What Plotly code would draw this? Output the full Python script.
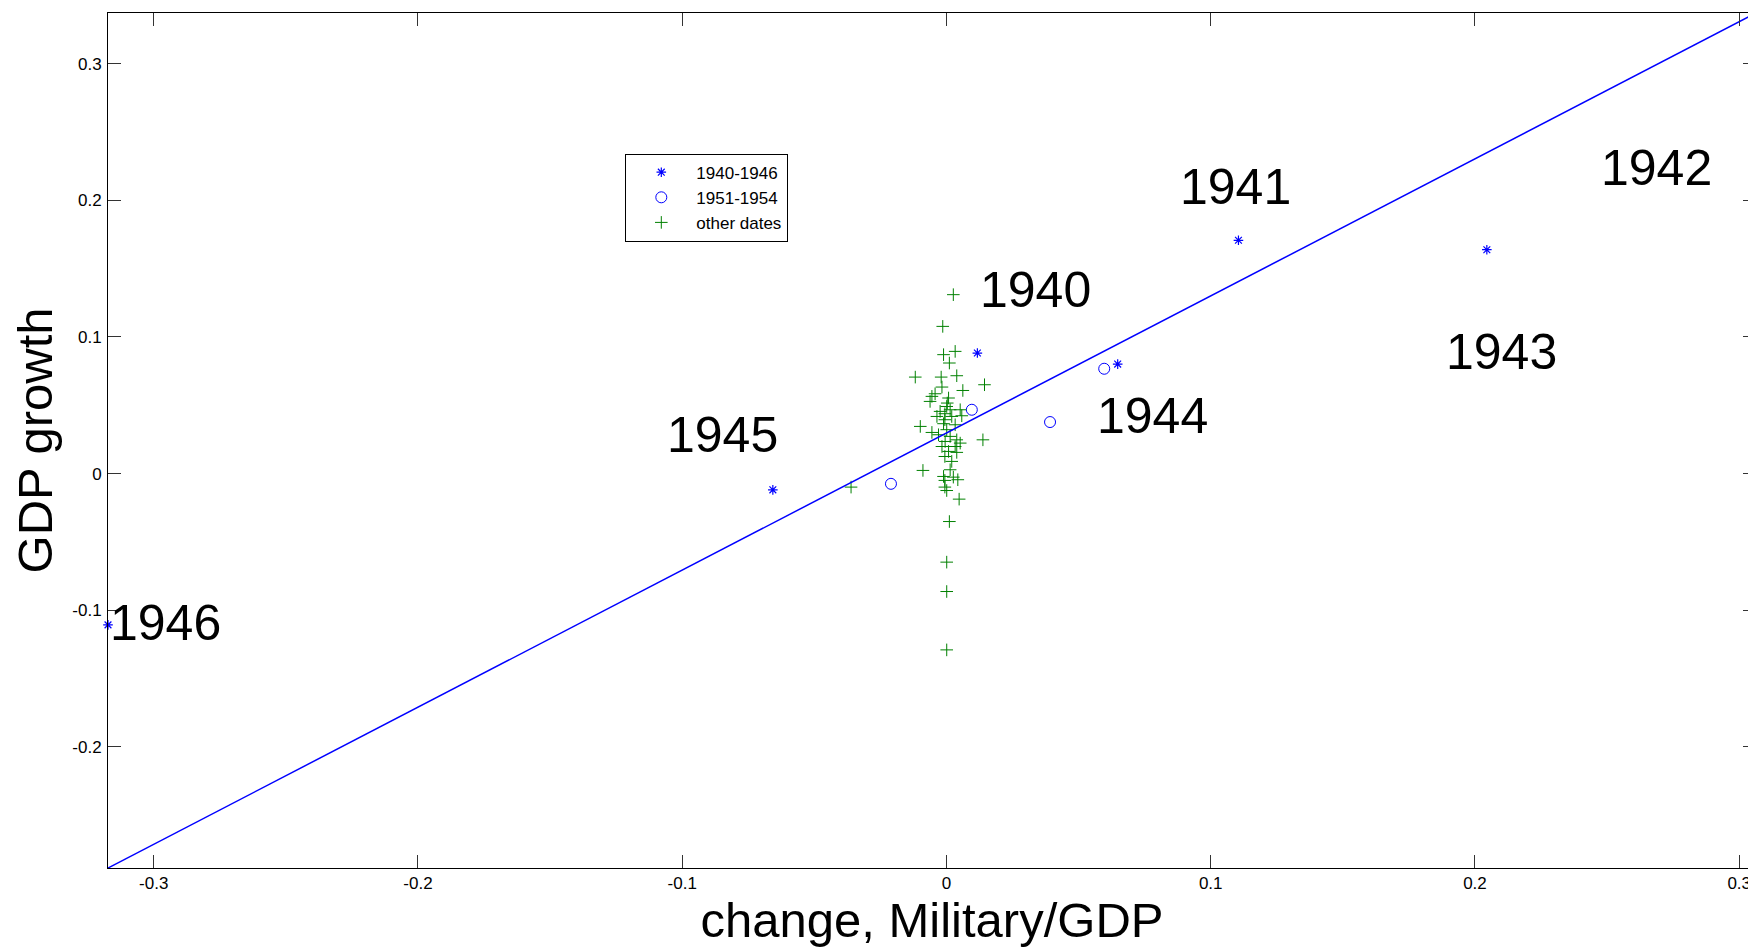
import plotly.graph_objects as go

# ---- data ----
war_years = ["1940", "1941", "1942", "1943", "1944", "1945", "1946"]
war_x = [0.0117, 0.1105, 0.3080, 0.2045, 0.0648, -0.0657, -0.3173]
war_y = [0.0882, 0.1707, 0.1900, 0.1638, 0.0801, -0.0119, -0.1107]

korea_x = [-0.0210, 0.0096, 0.0392, 0.0597]
korea_y = [-0.0075, 0.0467, 0.0377, 0.0767]

other_x = [0.0026, -0.0014, -0.0011, 0.0033, 0.0011, -0.0118, -0.0020, 0.0039,
           -0.0017, 0.0144, 0.0062, -0.0043, -0.0055, 0.0008, -0.0062, 0.0003,
           0.0001, 0.0014, 0.0052, -0.0024, -0.0006, -0.0036, 0.0020, 0.0058,
           -0.0006, -0.0099, -0.0011, 0.0033, -0.0055, -0.0030, 0.0001, 0.0014,
           0.0039, 0.0052, -0.0005, -0.0017, 0.0033, 0.0138, 0.0008, 0.0039,
           -0.0006, 0.0020, 0.0014, -0.0089, -0.0011, 0.0026, -0.0006, 0.0043,
           -0.0006, 0.0001, 0.0048, 0.0011, 0.0001, 0.0001, 0.0001, -0.0361]
other_y = [0.1309, 0.1077, 0.0870, 0.0894, 0.0809, 0.0706, 0.0706, 0.0716,
           0.0633, 0.0650, 0.0608, 0.0584, 0.0565, 0.0553, 0.0528, 0.0516,
           0.0491, 0.0467, 0.0467, 0.0455, 0.0438, 0.0418, 0.0418, 0.0423,
           0.0394, 0.0345, 0.0365, 0.0357, 0.0301, 0.0284, 0.0321, 0.0272,
           0.0247, 0.0223, 0.0235, 0.0198, 0.0198, 0.0247, 0.0162, 0.0155,
           0.0125, 0.0089, 0.0028, 0.0023, -0.0021, -0.0026, -0.0050, -0.0045,
           -0.0099, -0.0124, -0.0187, -0.0351, -0.0648, -0.0863, -0.1290, -0.0099]

fit_x = [-0.3173, 0.3080]
fit_y = [-0.2886, 0.3386]

label_text = ["1940", "1941", "1942", "1943", "1944", "1945", "1946"]
label_x = [0.0121, 0.0878, 0.2470, 0.1881, 0.0562, -0.1066, -0.3172]
label_y = [0.1346, 0.2100, 0.2239, 0.0890, 0.0423, 0.0280, -0.1090]

x_ticks = [-0.3, -0.2, -0.1, 0.0, 0.1, 0.2, 0.3]
x_ticktext = ["-0.3", "-0.2", "-0.1", "0", "0.1", "0.2", "0.3"]
y_ticks = [-0.2, -0.1, 0.0, 0.1, 0.2, 0.3]
y_ticktext = ["-0.2", "-0.1", "0", "0.1", "0.2", "0.3"]

FONT = "Liberation Sans, Arial, Helvetica, sans-serif"
BLUE = "#0000ff"
GREEN = "#008000"

fig = go.Figure()
fig.add_trace(go.Scatter(
    x=war_x, y=war_y, mode="markers", name="1940-1946",
    marker=dict(symbol="asterisk-open", size=8, color=BLUE,
                line=dict(color=BLUE, width=1.2)),
    cliponaxis=False))
fig.add_trace(go.Scatter(
    x=korea_x, y=korea_y, mode="markers", name="1951-1954",
    marker=dict(symbol="circle-open", size=11, color=BLUE,
                line=dict(color=BLUE, width=1))))
fig.add_trace(go.Scatter(
    x=other_x, y=other_y, mode="markers", name="other dates",
    marker=dict(symbol="cross-thin-open", size=9, color=GREEN,
                line=dict(color=GREEN, width=1))))
fig.add_trace(go.Scatter(
    x=fit_x, y=fit_y, mode="lines", showlegend=False,
    line=dict(color=BLUE, width=1.5)))

for t, lx, ly in zip(label_text, label_x, label_y):
    fig.add_annotation(x=lx, y=ly, text=t, showarrow=False,
                       xanchor="left", yanchor="middle",
                       font=dict(family=FONT, size=50, color="black"))

axis_common = dict(showgrid=False, zeroline=False, showline=True,
                   linecolor="black", linewidth=1, mirror="ticks",
                   ticks="inside", ticklen=13, tickwidth=1, tickcolor="#333333",
                   tickfont=dict(family=FONT, size=17, color="black"))

fig.update_xaxes(range=[-0.3173, 0.30636], tickvals=x_ticks, ticktext=x_ticktext,
                 title=dict(text="change, Military/GDP",
                            font=dict(family=FONT, size=49, color="black"),
                            standoff=2),
                 ticklabelstandoff=0, **axis_common)
fig.update_yaxes(range=[-0.2886, 0.3370], tickvals=y_ticks, ticktext=y_ticktext,
                 title=dict(text="GDP growth",
                            font=dict(family=FONT, size=49, color="black"),
                            standoff=4),
                 ticklabelstandoff=2, **axis_common)

# page body has an 8px margin, so the figure is sized/offset to compensate
fig.update_layout(
    width=1748, height=940, autosize=False,
    margin=dict(l=100, r=0, t=5, b=80),
    paper_bgcolor="white", plot_bgcolor="white",
    font=dict(family=FONT, color="black"),
    legend=dict(x=0.3139, y=0.8355, xanchor="left", yanchor="top",
                bgcolor="white", bordercolor="black", borderwidth=1,
                font=dict(family=FONT, size=17, color="black"),
                itemwidth=60),
)

fig.write_html("out.html")
